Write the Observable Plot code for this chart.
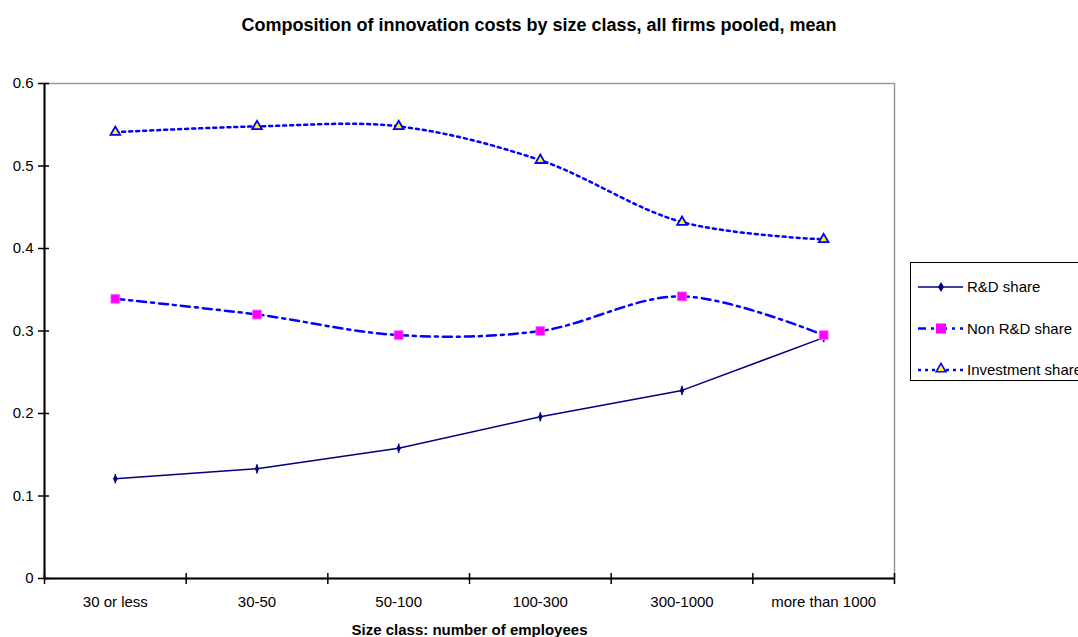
<!DOCTYPE html>
<html><head><meta charset="utf-8">
<script src="https://cdn.jsdelivr.net/npm/d3@7"></script>
<script src="https://cdn.jsdelivr.net/npm/@observablehq/plot@0.6"></script>
<style>
body{margin:0;background:#fff;font-family:"Liberation Sans",Arial,sans-serif;}
#wrap{position:relative;width:1078px;height:637px;overflow:hidden;}
#title{position:absolute;left:0;top:14px;width:1078px;text-align:center;font-weight:bold;font-size:18px;line-height:22px;}
#chart{position:absolute;left:0;top:50px;}
#chart svg text{font-size:15px;}
#legend{position:absolute;left:910px;top:262px;width:190px;height:119px;border:1px solid #000;box-sizing:border-box;background:#fff;}
</style></head>
<body>
<div id="wrap">
<div id="title">Composition of innovation costs by size class, all firms pooled, mean</div>
<div id="chart"></div>
<div id="legend"></div>
</div>
<script>
const categories = ["30 or less","30-50","50-100","100-300","300-1000","more than 1000"];
const rdShare = [0.121,0.133,0.158,0.196,0.228,0.292];
const nonRdShare = [0.339,0.320,0.295,0.300,0.342,0.295];
const investmentShare = [0.541,0.548,0.548,0.507,0.432,0.411];
const yTicks = [0,0.1,0.2,0.3,0.4,0.5,0.6];
const seriesNames = ["R&D share","Non R&D share","Investment share"];

const mk = vals => vals.map((v,i)=>({x:i+0.5,y:v}));
const rd = mk(rdShare), nrd = mk(nonRdShare), inv = mk(investmentShare);
const bounds = d3.range(categories.length+1);
const centers = categories.map((c,i)=>i+0.5);

const vbar = {draw(ctx, size){ const h = Math.sqrt(size)*1.3; ctx.moveTo(0,-h/2); ctx.lineTo(0,h/2); }};

const font = "Liberation Sans, Arial, sans-serif";
const plot = Plot.plot({
  width:1078, height:587,
  marginLeft:44, marginRight:184, marginTop:33, marginBottom:59,
  style:{fontFamily:font,fontSize:"15px",color:"#000",background:"#fff"},
  x:{type:"linear",domain:[0,categories.length]},
  y:{type:"linear",domain:[0,0.6]},
  marks:[
    Plot.frame({stroke:"#999",strokeWidth:1.5}),
    Plot.axisY({ticks:yTicks,tickSize:6,tickFormat:d=>String(+d.toFixed(1)),tickPadding:5,label:null,strokeWidth:1.5}),
    Plot.axisY({ticks:yTicks,tickSize:-5,tickFormat:()=>"",label:null,strokeWidth:1.5}),
    Plot.axisX({ticks:bounds,tickSize:6,tickFormat:()=>"",label:null,strokeWidth:1.5}),
    Plot.axisX({ticks:bounds,tickSize:-5,tickFormat:()=>"",label:null,strokeWidth:1.5}),
    Plot.axisX({ticks:centers,tickSize:0,tickPadding:18,tickFormat:d=>categories[Math.round(d-0.5)],label:"Size class: number of employees",labelAnchor:"center",labelArrow:false,labelOffset:56}),
    Plot.ruleX([0],{stroke:"#000",strokeWidth:2}),
    Plot.ruleY([0],{stroke:"#000",strokeWidth:2}),
    Plot.line(inv,{x:"x",y:"y",stroke:"#0000ff",strokeWidth:2.5,strokeDasharray:"3,4",curve:"catmull-rom"}),
    Plot.line(nrd,{x:"x",y:"y",stroke:"#0000ff",strokeWidth:2.5,strokeDasharray:"9,5,3,5",curve:"catmull-rom"}),
    Plot.line(rd,{x:"x",y:"y",stroke:"#000080",strokeWidth:1.5}),
    Plot.dot(rd,{x:"x",y:"y",symbol:vbar,r:4,stroke:"#000080",strokeWidth:1.5}),
    Plot.dot(rd,{x:"x",y:"y",symbol:"diamond",r:2.5,fill:"#000080"}),
    Plot.dot(nrd,{x:"x",y:"y",symbol:"square",r:5,fill:"#ff00ff",stroke:"#ff66ff",strokeWidth:0.8}),
    Plot.dot(inv,{x:"x",y:"y",symbol:"triangle",r:3.6,fill:"#ffff00",stroke:"#0000ff",strokeWidth:1.8})
  ]
});
document.getElementById("chart").appendChild(plot);
plot.querySelectorAll("text").forEach(t=>{ if(t.textContent==="Size class: number of employees"){t.setAttribute("font-weight","bold");} });

// legend
const lg = d3.select("#legend").append("svg").attr("width",190).attr("height",119).style("font-family",font).style("font-size","15px");
const styles = [
  {stroke:"#000080",w:1.5,dash:null},
  {stroke:"#0000ff",w:2.5,dash:"8,5,3,5"},
  {stroke:"#0000ff",w:2.5,dash:"3,4"}
];
seriesNames.forEach((n,i)=>{
  const y = 24 + i*41.5;
  const s = styles[i];
  const l = lg.append("line").attr("x1",7).attr("x2",52).attr("y1",y).attr("y2",y).attr("stroke",s.stroke).attr("stroke-width",s.w);
  if(s.dash) l.attr("stroke-dasharray",s.dash);
  if(i===0) lg.append("path").attr("d",d3.symbol(d3.symbolDiamond,30)()).attr("transform",`translate(30,${y})`).attr("fill","#000080");
  if(i===1) lg.append("rect").attr("x",25).attr("y",y-5).attr("width",10).attr("height",10).attr("fill","#ff00ff");
  if(i===2) lg.append("path").attr("d",d3.symbol(d3.symbolTriangle,40)()).attr("transform",`translate(30,${y-1})`).attr("fill","#ffff00").attr("stroke","#0000ff").attr("stroke-width",1.6);
  lg.append("text").attr("x",56).attr("y",y+5).text(n);
});
</script>
</body></html>
